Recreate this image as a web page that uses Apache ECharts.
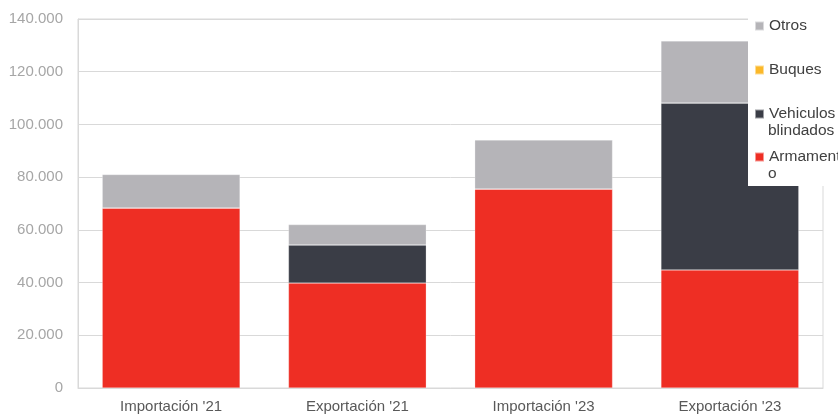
<!DOCTYPE html>
<html>
<head>
<meta charset="utf-8">
<script src="https://cdn.jsdelivr.net/npm/echarts@6/dist/echarts.min.js"></script>
<style>
html,body{margin:0;padding:0;background:#fff;}
#chart{width:838px;height:416px;}
</style>
</head>
<body>
<div id="chart"></div>
<script>
var categories = ["Importación '21", "Exportación '21", "Importación '23", "Exportación '23"];
var armamento = [68300, 39800, 75500, 44800];
var vehiculos = [0, 14500, 0, 63300];
var buques = [0, 0, 0, 0];
var otros = [12700, 7700, 18600, 23600];
var yTicks = [0, 20000, 40000, 60000, 80000, 100000, 120000, 140000];

var colors = {
  'Armamento': '#EE2E24',
  'Vehiculos blindados': '#3A3D46',
  'Buques': '#FBB829',
  'Otros': '#B5B4B8'
};
var firstLine = {
  'Otros': 'Otros',
  'Buques': 'Buques',
  'Vehiculos blindados': 'Vehiculos',
  'Armamento': 'Armament'
};
var FONT = 'Liberation Sans, Arial, sans-serif';

function fmt(v) {
  return String(v).replace(/\B(?=(\d{3})+(?!\d))/g, '.');
}

function mkSeries(name, data) {
  return {
    name: name, type: 'bar', stack: 'total', data: data,
    barWidth: '74%',
    itemStyle: { color: colors[name], borderColor: 'rgba(255,255,255,0.5)', borderWidth: 0.5 },
    emphasis: { disabled: true }
  };
}

function mkLegend(name, top) {
  return {
    show: true, orient: 'vertical', left: 754, top: top, padding: 0,
    itemWidth: 9, itemHeight: 9, itemGap: 0,
    icon: 'rect', selectedMode: false,
    data: [name],
    formatter: function (n) { return firstLine[n]; },
    textStyle: { fontFamily: FONT, fontSize: 15.5, lineHeight: 17, color: '#404040' },
    z: 10
  };
}

function mkLine(text, top) {
  return {
    type: 'text', left: 768, top: top, z: 10,
    style: { text: text, fontFamily: FONT, fontSize: 15.5, lineHeight: 17, fill: '#404040' }
  };
}

var chart = echarts.init(document.getElementById('chart'), null, { renderer: 'canvas' });
chart.setOption({
  animation: false,
  backgroundColor: '#fff',
  grid: { left: 78, right: 15, top: 19, bottom: 28, show: true, borderColor: '#d9d9d9', borderWidth: 1 },
  legend: [
    mkLegend('Otros', 17.5),
    mkLegend('Buques', 61.5),
    mkLegend('Vehiculos blindados', 105.5),
    mkLegend('Armamento', 148.5)
  ],
  graphic: [
    { type: 'rect', left: 748, top: 10, z: 5, shape: { width: 90, height: 176 }, style: { fill: '#ffffff' } },
    mkLine('blindados', 122.5),
    mkLine('o', 165.5)
  ],
  xAxis: {
    type: 'category', data: categories,
    axisLine: { show: true, lineStyle: { color: '#d9d9d9' } },
    axisTick: { show: false },
    axisLabel: { fontFamily: FONT, fontSize: 15, color: '#595959', margin: 11 }
  },
  yAxis: {
    type: 'value', min: yTicks[0], max: yTicks[yTicks.length - 1], interval: 20000,
    axisLine: { show: true, lineStyle: { color: '#d9d9d9' } },
    axisTick: { show: false },
    splitLine: { show: true, lineStyle: { color: '#d9d9d9' } },
    axisLabel: { fontFamily: FONT, fontSize: 15, color: '#a6a6a6', margin: 15, formatter: fmt }
  },
  series: [
    mkSeries('Armamento', armamento),
    mkSeries('Vehiculos blindados', vehiculos),
    mkSeries('Buques', buques),
    mkSeries('Otros', otros)
  ]
});
</script>
</body>
</html>
